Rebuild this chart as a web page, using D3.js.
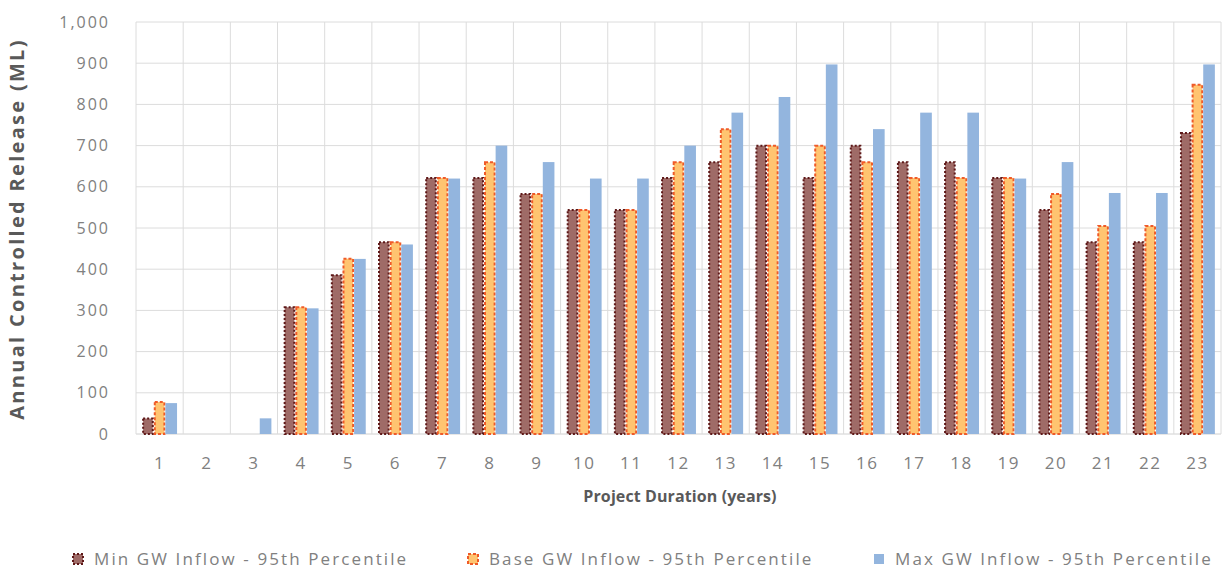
<!DOCTYPE html>
<html>
<head>
<meta charset="utf-8">
<script src="https://cdn.jsdelivr.net/npm/d3@7"></script>
<style>
  html, body { margin: 0; padding: 0; background: #ffffff; }
  svg { display: block; font-family: "Open Sans", "DejaVu Sans", sans-serif; }
</style>
</head>
<body>
<svg id="chart" width="1226" height="571"></svg>
<script>
const categories = ["1","2","3","4","5","6","7","8","9","10","11","12","13","14","15","16","17","18","19","20","21","22","23"];
const seriesNames = ["Min GW Inflow - 95th Percentile", "Base GW Inflow - 95th Percentile", "Max GW Inflow - 95th Percentile"];
const minValues  = [40, 0, 0, 310, 388, 468, 624, 624, 585, 546, 546, 624, 662, 702, 624, 702, 662, 662, 624, 546, 468, 468, 733];
const baseValues = [80, 0, 0, 310, 428, 468, 624, 662, 585, 546, 546, 662, 742, 702, 702, 662, 624, 624, 624, 585, 507, 507, 850];
const maxValues  = [75, 0, 38, 305, 425, 460, 620, 700, 660, 620, 620, 700, 780, 818, 897, 740, 780, 780, 620, 660, 585, 585, 897];
const yTicks = [0, 100, 200, 300, 400, 500, 600, 700, 800, 900, 1000];
const yTitle = "Annual Controlled Release (ML)";
const xTitle = "Project Duration (years)";

const svg = d3.select("#chart");
const pLeft = 136, pRight = 1221, pTop = 22, pBottom = 434;

const x0 = d3.scaleBand().domain(categories).range([pLeft, pRight]).paddingInner(0.26).paddingOuter(0.13);
const x1 = d3.scaleBand().domain(seriesNames).range([0, x0.bandwidth()]).padding(0);
const y = d3.scaleLinear().domain([0, 1000]).range([pBottom, pTop]);

const styles = [
  { fill: "#9f6b67", stroke: "#5e1818", dash: "2 2" },
  { fill: "#ffc470", stroke: "#ef5a28", dash: "3 2" },
  { fill: "#93b5de", stroke: "none", dash: null }
];

// horizontal gridlines
svg.append("g").selectAll("line").data(yTicks).join("line")
  .attr("x1", pLeft).attr("x2", pRight)
  .attr("y1", d => y(d)).attr("y2", d => y(d))
  .attr("stroke", d => d === 0 ? "#d0d0d0" : "#dcdcdc").attr("stroke-width", 1);

// vertical gridlines at category boundaries
const step = x0.step();
const bounds = d3.range(categories.length + 1).map(i => pLeft + i * step);
svg.append("g").selectAll("line").data(bounds).join("line")
  .attr("x1", d => d).attr("x2", d => d)
  .attr("y1", pTop).attr("y2", pBottom)
  .attr("stroke", "#dcdcdc").attr("stroke-width", 1);

// bars
const seriesData = [minValues, baseValues, maxValues];
seriesData.forEach((vals, si) => {
  const st = styles[si];
  const inset = st.stroke === "none" ? 0 : 1;
  svg.append("g").selectAll("rect").data(vals.map((v, i) => ({ c: categories[i], v })))
    .join("rect")
    .attr("x", d => x0(d.c) + x1(seriesNames[si]) + inset)
    .attr("y", d => y(d.v) + inset)
    .attr("width", x1.bandwidth() - 2 * inset)
    .attr("height", d => Math.max(0, pBottom - y(d.v) - inset))
    .attr("fill", st.fill)
    .attr("stroke", d => d.v > 0 ? st.stroke : "none")
    .attr("stroke-width", 2)
    .attr("stroke-dasharray", st.dash);
});

// y axis
const yAxis = svg.append("g").attr("transform", `translate(${pLeft},0)`)
  .call(d3.axisLeft(y).tickValues(yTicks).tickFormat(d3.format(",")).tickSize(0).tickPadding(26));
yAxis.select(".domain").remove();
yAxis.selectAll("text").attr("font-size", 16).attr("fill", "#808080")
  .attr("letter-spacing", 2).attr("font-family", "Open Sans");

// x axis
const xAxis = svg.append("g").attr("transform", `translate(0,${pBottom})`)
  .call(d3.axisBottom(x0).tickSize(0).tickPadding(23));
xAxis.select(".domain").remove();
xAxis.selectAll("text").attr("font-size", 17).attr("fill", "#808080")
  .attr("letter-spacing", 1.5).attr("font-family", "Open Sans");

// titles
svg.append("text")
  .attr("transform", `translate(24,${(pTop + pBottom) / 2 + 1}) rotate(-90)`)
  .attr("text-anchor", "middle")
  .attr("font-size", 20).attr("font-weight", "bold").attr("fill", "#595959")
  .attr("letter-spacing", 2.3)
  .text(yTitle);

svg.append("text")
  .attr("x", 680).attr("y", 502)
  .attr("text-anchor", "middle")
  .attr("font-size", 16).attr("font-weight", "bold").attr("fill", "#595959")
  .attr("letter-spacing", 0.1)
  .text(xTitle);

// legend
const legendX = [72, 467, 873];
const legend = svg.append("g");
seriesNames.forEach((name, i) => {
  const g = legend.append("g").attr("transform", `translate(${legendX[i]},553)`);
  g.append("rect").attr("x", 1).attr("y", 1).attr("width", 10).attr("height", 10)
    .attr("fill", styles[i].fill)
    .attr("stroke", styles[i].stroke).attr("stroke-width", 2)
    .attr("stroke-dasharray", styles[i].dash);
  g.append("text").attr("x", 22).attr("y", 12)
    .attr("font-size", 17).attr("fill", "#808080")
    .attr("letter-spacing", 2.1)
    .text(name);
});
</script>
</body>
</html>
